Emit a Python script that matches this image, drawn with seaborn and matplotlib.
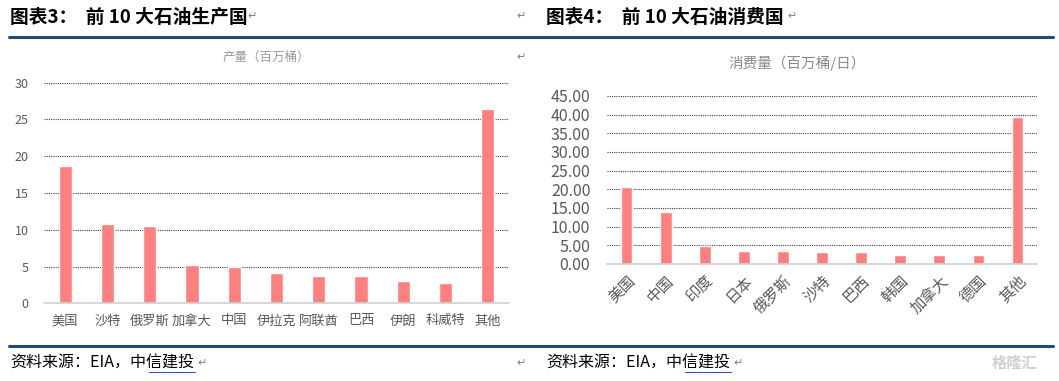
import matplotlib
matplotlib.use("Agg")
import matplotlib.pyplot as plt
import seaborn as sns
import pandas as pd

# production, top 10 producers (million barrels)
prod_countries = ["美国", "沙特", "俄罗斯", "加拿大", "中国", "伊拉克", "阿联酋", "巴西", "伊朗", "科威特", "其他"]
prod_values = [18.7, 10.8, 10.5, 5.2, 4.9, 4.1, 3.75, 3.75, 3.0, 2.7, 26.4]

# consumption, top 10 consumers (million barrels / day)
cons_countries = ["美国", "中国", "印度", "日本", "俄罗斯", "沙特", "巴西", "韩国", "加拿大", "德国", "其他"]
cons_values = [20.5, 14.0, 4.8, 3.6, 3.6, 3.1, 3.1, 2.5, 2.5, 2.3, 39.5]

W, H = 1059, 381
BAR = "#ff7f7f"
BLUE = "#1f4e79"
GRAY = "#595959"

sns.set_theme(style="white")
plt.rcParams["font.family"] = ["Noto Sans CJK SC", "DejaVu Sans"]


def px_axes(fig, x0, y0, x1, y1):
    return fig.add_axes([x0 / W, 1 - y1 / H, (x1 - x0) / W, (y1 - y0) / H])


def style_axes(ax, ymax, step, fmt, tick_size):
    ax.set_ylim(0, ymax)
    ticks = [i * step for i in range(int(round(ymax / step)) + 1)]
    ax.set_yticks(ticks)
    ax.set_yticklabels([fmt.format(t) for t in ticks], fontsize=tick_size, color=GRAY)
    ax.yaxis.grid(True, linestyle=(0, (1, 1)), color="#404040", linewidth=0.8)
    ax.set_axisbelow(True)
    for s in ["top", "right", "left"]:
        ax.spines[s].set_visible(False)
    ax.spines["bottom"].set_color("#d0d0d0")
    ax.spines["bottom"].set_linewidth(1.2)
    ax.tick_params(axis="both", length=0, pad=4)
    ax.set_xlabel("")
    ax.set_ylabel("")


fig = plt.figure(figsize=(W / 100, H / 100), dpi=100)

# left chart
ax1 = px_axes(fig, 44, 82.7, 509, 303.3)
df1 = pd.DataFrame({"country": prod_countries, "value": prod_values})
sns.barplot(data=df1, x="country", y="value", color=BAR, width=0.31, ax=ax1, saturation=1)
style_axes(ax1, 30, 5, "{:.0f}", 9)
ax1.set_xticklabels(prod_countries, fontsize=9.5, color=GRAY)
ax1.tick_params(axis="x", pad=8)
ax1.tick_params(axis="y", pad=11)

# right chart
ax2 = px_axes(fig, 607, 96, 1037, 264)
df2 = pd.DataFrame({"country": cons_countries, "value": cons_values})
sns.barplot(data=df2, x="country", y="value", color=BAR, width=0.3, ax=ax2, saturation=1)
style_axes(ax2, 45, 5, "{:.2f}", 11.5)
ax2.set_xticklabels(cons_countries, fontsize=11, color=GRAY, rotation=45,
                    ha="right", rotation_mode="anchor")
ax2.tick_params(axis="x", pad=6)
ax2.tick_params(axis="y", pad=12)

# headers, rules and sources
fig.text(10 / W, 1 - 17 / H, "图表3：  前 10 大石油生产国", fontsize=13.5, fontweight="bold",
         va="center", ha="left", color="black")
fig.text(546 / W, 1 - 17 / H, "图表4：  前 10 大石油消费国", fontsize=13.5, fontweight="bold",
         va="center", ha="left", color="black")
fig.text(266 / W, 1 - 57 / H, "产量（百万桶）", fontsize=9, color="#9a9a9a", ha="center", va="center")
fig.text(797 / W, 1 - 63 / H, "消费量（百万桶/日）", fontsize=10.5, color="#8a8a8a", ha="center", va="center")

fig.add_artist(plt.Line2D([9 / W, 1053 / W], [1 - 36.5 / H, 1 - 36.5 / H], color=BLUE, linewidth=2.2))
fig.add_artist(plt.Line2D([9 / W, 1053 / W], [1 - 345.5 / H, 1 - 345.5 / H], color=BLUE, linewidth=2.2))

fig.text(10 / W, 1 - 363 / H, "资料来源：EIA，中信建投", fontsize=11.5, style="italic",
         va="center", ha="left", color="black")
fig.text(546 / W, 1 - 363 / H, "资料来源：EIA，中信建投", fontsize=11.5, style="italic",
         va="center", ha="left", color="black")
fig.add_artist(plt.Line2D([149 / W, 195 / W], [1 - 372 / H, 1 - 372 / H], color="#3355cc", linewidth=0.8))
fig.add_artist(plt.Line2D([685 / W, 731 / W], [1 - 372 / H, 1 - 372 / H], color="#3355cc", linewidth=0.8))

# paragraph marks
for x, y in [(252, 16), (521, 16), (521, 57), (202, 363), (521, 363), (792, 16), (738, 363)]:
    fig.text(x / W, 1 - y / H, "↵", fontsize=8, color="#808080", va="center", ha="center",
             family=["DejaVu Sans"])

fig.text(1015 / W, 1 - 363 / H, "格隆汇", fontsize=11, color="#d0d0d0", va="center", ha="center",
         fontweight="bold")

fig.savefig("out.png", dpi=100)
